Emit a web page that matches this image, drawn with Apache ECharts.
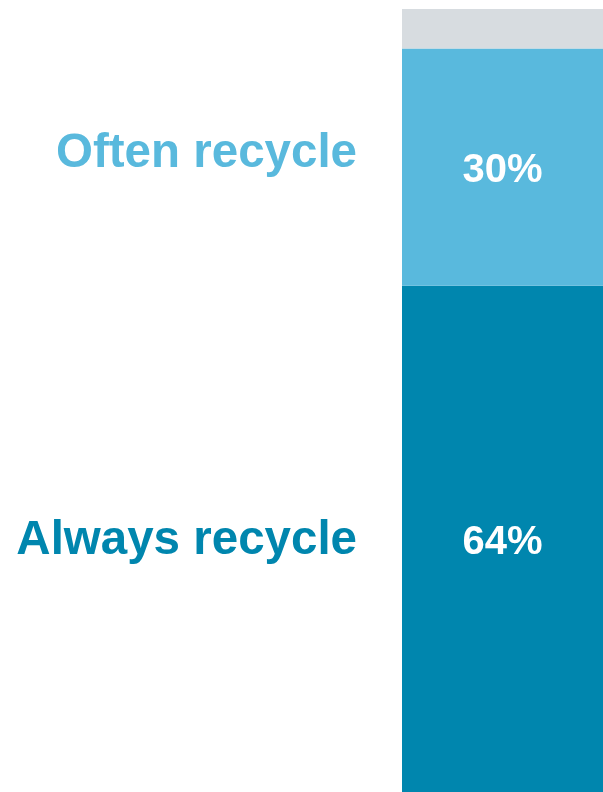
<!DOCTYPE html>
<html>
<head>
<meta charset="utf-8">
<script src="https://cdn.jsdelivr.net/npm/echarts@6/dist/echarts.min.js"></script>
<style>
  html, body { margin: 0; padding: 0; background: #fff; }
  #main { width: 603px; height: 792px; }
</style>
</head>
<body>
<div id="main"></div>
<script>
const categories = ['Recycling'];
const segmentNames = ['Always recycle', 'Often recycle', 'Other'];
const segmentValues = [64, 30, 5];
const segmentLabels = ['64%', '30%', ''];
const segmentColors = ['#0086AE', '#59B9DD', '#D7DCE0'];

const myChart = echarts.init(document.getElementById('main'));

//百分比所在的堆叠柱
let series = segmentNames.map(function (name, i) {
    return {
        name: name,
        type: 'bar',
        stack: 'total',
        barWidth: '100%',
        barGap: '-100%',
        itemStyle: {color: segmentColors[i]},
        label: {
            show: segmentLabels[i] !== '',
            position: 'inside',
            formatter: segmentLabels[i],
            color: '#fff',
            fontFamily: 'Liberation Sans',
            fontWeight: 'bold',
            fontSize: 40,
            offset: [0, 4]
        },
        silent: true,
        data: [segmentValues[i]]
    };
});

//左侧的名称，用透明柱承载
segmentNames.forEach(function (name, i) {
    series.push({
        name: name + '-name',
        type: 'bar',
        stack: 'names',
        barWidth: '100%',
        barGap: '-100%',
        itemStyle: {color: 'rgba(0,0,0,0)'},
        label: {
            show: segmentLabels[i] !== '',
            position: 'left',
            distance: 45,
            formatter: name,
            color: segmentColors[i],
            fontFamily: 'Liberation Sans',
            fontWeight: 'bold',
            fontSize: 47.5,
            offset: [0, i === 0 ? 2 : -13]
        },
        silent: true,
        data: [segmentValues[i]]
    });
});

let option = {
    animation: false,
    grid: {left: 402, right: 0, top: 1, bottom: 0},
    xAxis: {
        type: 'category',
        data: categories,
        show: false
    },
    yAxis: {
        type: 'value',
        min: 0,
        max: 100,
        show: false
    },
    series: series
};
myChart.setOption(option);
</script>
</body>
</html>
